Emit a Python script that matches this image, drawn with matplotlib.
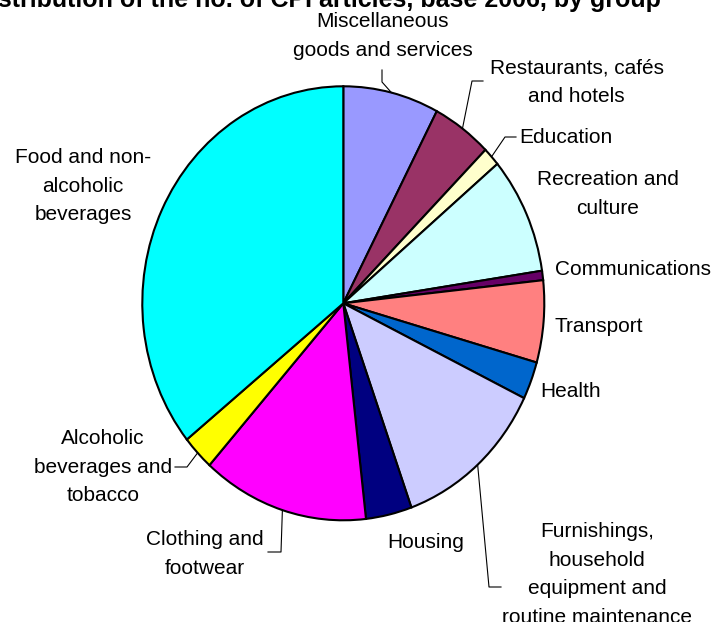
import matplotlib.pyplot as plt
import numpy as np

plt.rcParams['font.family'] = ['Liberation Sans', 'DejaVu Sans']

# share of CPI articles per group (%), clockwise from 12 o'clock
groups = ["Miscellaneous\ngoods and services",
          "Restaurants, cafés\nand hotels",
          "Education",
          "Recreation and\nculture",
          "Communications",
          "Transport",
          "Health",
          "Furnishings,\nhousehold\nequipment and\nroutine maintenance",
          "Housing",
          "Clothing and\nfootwear",
          "Alcoholic\nbeverages and\ntobacco",
          "Food and non-\nalcoholic\nbeverages"]
shares = [7.7, 4.8, 1.4, 8.7, 0.7, 6.1, 2.8, 12.3, 3.7, 13.4, 2.6, 35.8]
colors = ['#9999FF', '#993366', '#FFFFCC', '#CCFFFF', '#660066', '#FF8080',
          '#0066CC', '#CCCCFF', '#000080', '#FF00FF', '#FFFF00', '#00FFFF']

title = "Distribution of the no. of CPI articles, base 2006, by group"

# layout (pixels, y downwards)
W, H = 715, 622
cx, cy, rx, ry = 343.3, 303.3, 201, 217
label_pos = [(382.5, 27), (576.5, 73), (565.5, 143), (607.5, 185),
             (632.5, 275), (598.5, 332), (571, 397), (597, 537),
             (425.5, 548), (205, 545), (103, 444), (83, 163)]
# leader lines: index -> (elbow, end)
leaders = {0: [(382, 82), (382, 70)],
           1: [(472, 81), (483, 81)],
           2: [(505, 137), (516, 137)],
           7: [(489, 587), (501, 587)],
           9: [(281, 552), (268, 552)],
           10: [(187, 467), (175, 467)]}
line_gap = 28.7

fig = plt.figure(figsize=(W / 100, H / 100), dpi=100)

ax = fig.add_axes([(cx - rx) / W, (H - cy - ry) / H, 2 * rx / W, 2 * ry / H])
wedges, _ = ax.pie(shares, colors=colors, startangle=90, counterclock=False,
                   wedgeprops=dict(edgecolor='black', linewidth=1.5))
for w in wedges:
    w.set_clip_on(False)
ax.set_xlim(-1, 1)
ax.set_ylim(-1, 1)
ax.set_aspect('auto')
ax.axis('off')

# overlay in pixel coordinates for labels
ov = fig.add_axes([0, 0, 1, 1])
ov.set_xlim(0, W)
ov.set_ylim(H, 0)
ov.axis('off')

bounds = np.cumsum([0] + shares) / np.sum(shares) * 360
for i, lab in enumerate(groups):
    x, y = label_pos[i]
    for k, line in enumerate(lab.split('\n')):
        ov.text(x, y + k * line_gap, line, ha='center', va='baseline',
                fontsize=15)
    if i in leaders:
        mid = np.radians((bounds[i] + bounds[i + 1]) / 2)
        ex, ey = cx + rx * np.sin(mid), cy - ry * np.cos(mid)
        pts = [(ex, ey)] + leaders[i]
        ov.plot([p[0] for p in pts], [p[1] for p in pts], color='black',
                linewidth=0.8, clip_on=False)

ov.text(317, 7, title, ha='center', va='baseline', fontsize=18,
        fontweight='bold', clip_on=False)

fig.savefig('out.png', dpi=100)
